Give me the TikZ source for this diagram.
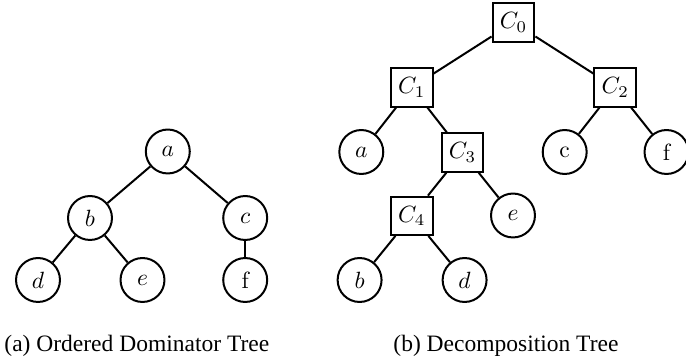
\documentclass[tikz,border=0pt]{standalone}
\usepackage{fontspec}
\newfontfamily\capfont{Liberation Serif}
\begin{document}
\begin{tikzpicture}[x=0.4255pt, y=-0.4255pt,
  vert/.style={draw, circle, line width=0.85pt, minimum size=18.7pt, inner sep=0pt},
  comp/.style={draw, rectangle, line width=0.85pt, minimum width=17.8pt, minimum height=16.3pt, inner sep=1pt},
  edge/.style={line width=0.85pt},
  caption/.style={anchor=base west, inner sep=0pt, font=\capfont}]
\useasboundingbox (0,0) rectangle (686,363);

% (a) ordered dominator tree
\node[vert] (la) at (167.8,151.5) {$a$};
\node[vert] (lb) at (90,218) {$b$};
\node[vert] (lc) at (245.2,218) {$c$};
\node[vert] (ld) at (38,280) {$d$};
\node[vert] (le) at (142.5,280) {$e$};
\node[vert] (lf) at (245.2,280) {f};
\draw[edge] (la) -- (lb);
\draw[edge] (la) -- (lc);
\draw[edge] (lb) -- (ld);
\draw[edge] (lb) -- (le);
\draw[edge] (lc) -- (lf);

% (b) decomposition tree
\node[comp] (c0) at (513.5,22.5) {$C_0$};
\node[comp] (c1) at (411.8,87.5) {$C_1$};
\node[comp] (c2) at (615.2,87.5) {$C_2$};
\node[vert] (ra) at (361.3,152) {$a$};
\node[comp] (c3) at (462.5,152.5) {$C_3$};
\node[vert] (rc) at (564.7,152) {c};
\node[vert] (rf) at (666.5,152) {f};
\node[comp] (c4) at (411.8,215.8) {$C_4$};
\node[vert] (re) at (513,215.5) {$e$};
\node[vert] (rb) at (359.6,280) {$b$};
\node[vert] (rd) at (464.6,280) {$d$};
\draw[edge] (c0) -- (c1);
\draw[edge] (c0) -- (c2);
\draw[edge] (c1) -- (ra);
\draw[edge] (c1) -- (c3);
\draw[edge] (c2) -- (rc);
\draw[edge] (c2) -- (rf);
\draw[edge] (c3) -- (c4);
\draw[edge] (c3) -- (re);
\draw[edge] (c4) -- (rb);
\draw[edge] (c4) -- (rd);

% captions
\node[caption] (capa) at (4,352) {(a) Ordered Dominator Tree};
\node[caption] (capb) at (393,352) {(b) Decomposition Tree};
\end{tikzpicture}
\end{document}
